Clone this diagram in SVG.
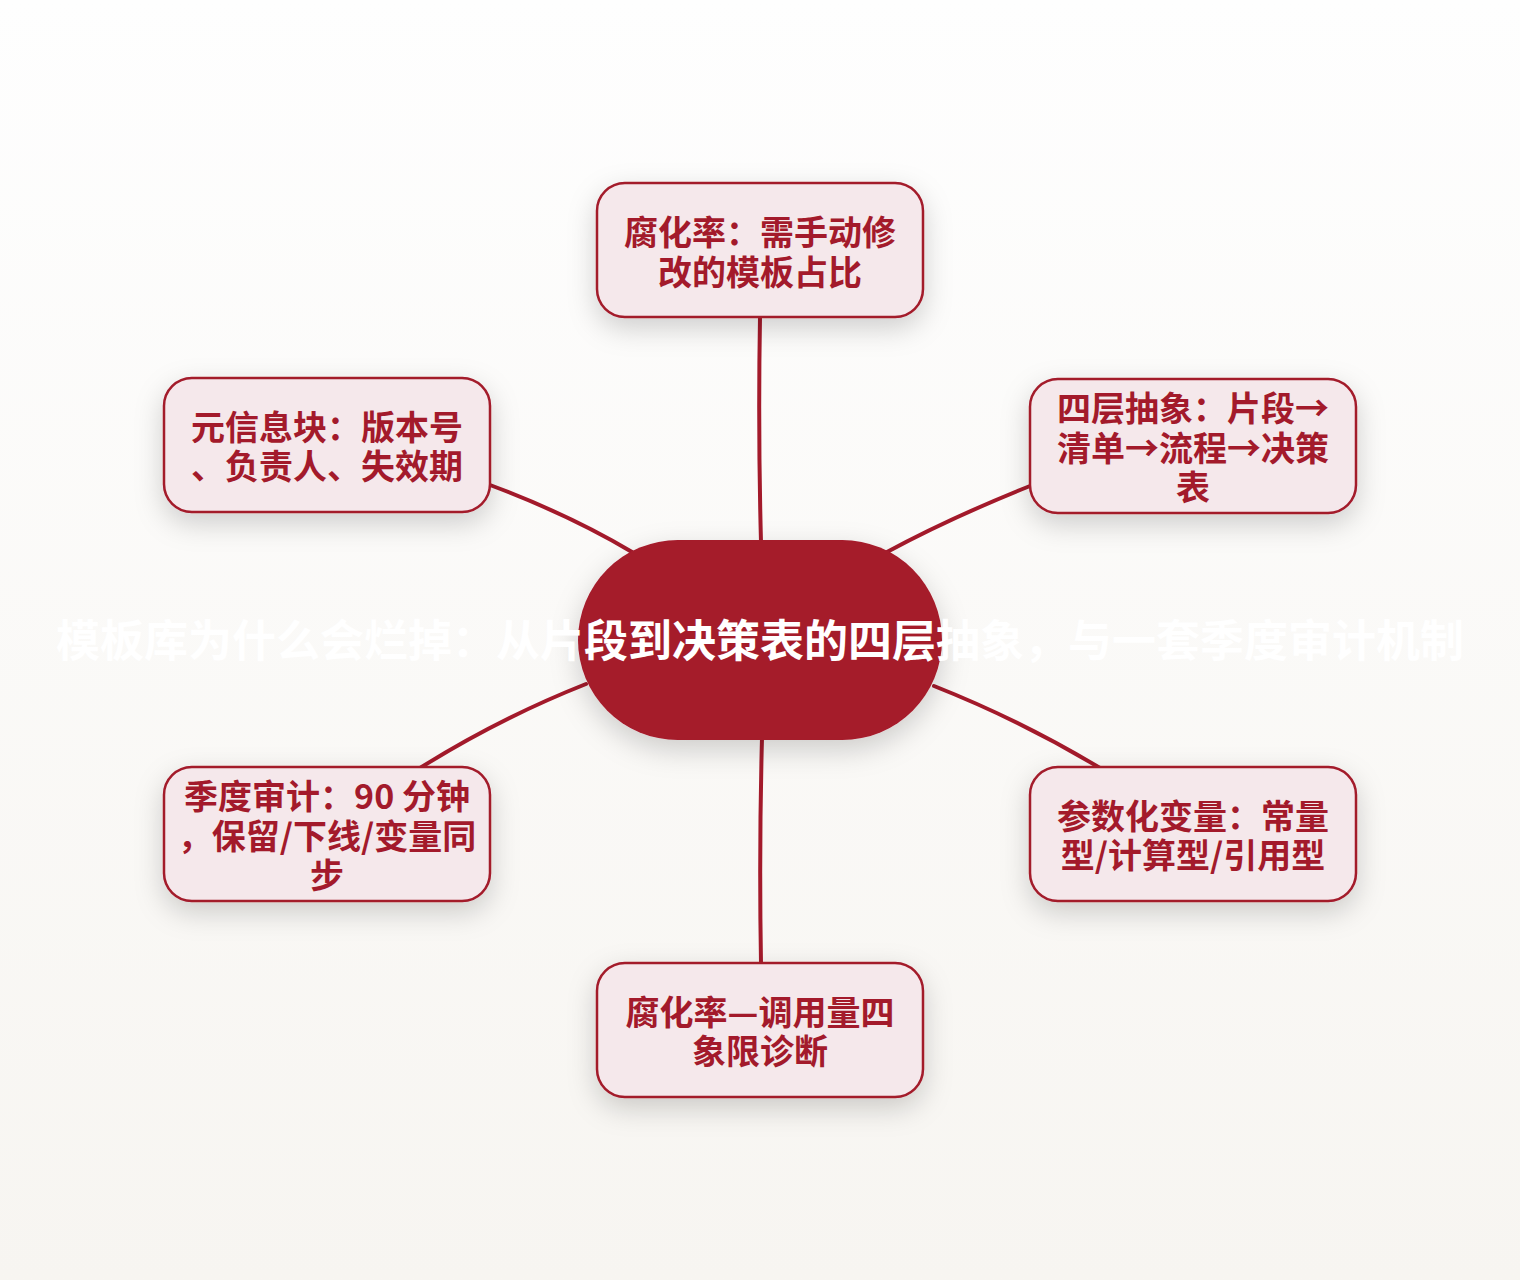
<svg xmlns="http://www.w3.org/2000/svg" width="1520" height="1280" viewBox="0 0 1520 1280">
<defs>
<linearGradient id="bg" x1="0" y1="0" x2="0" y2="1">
<stop offset="0" stop-color="#fefefe"/>
<stop offset="1" stop-color="#f7f5f1"/>
</linearGradient>
<filter id="sh" x="-30%" y="-30%" width="160%" height="170%">
<feDropShadow dx="0" dy="10" stdDeviation="14" flood-color="#000" flood-opacity="0.18"/>
</filter>
<style>
.conn{fill:none;stroke:#a31a2b;stroke-width:4;stroke-linecap:round}
.box{fill:#f5e8eb;stroke:#a31a2b;stroke-width:2.5}
.lbl{font-family:"Noto Sans CJK SC","Noto Sans",sans-serif;font-weight:700;font-size:34px;fill:#a31a2b;text-anchor:middle}
.title{font-family:"Noto Sans CJK SC","Noto Sans",sans-serif;font-weight:700;font-size:44px;fill:#ffffff;text-anchor:middle}
</style>
</defs>
<rect width="1520" height="1280" fill="url(#bg)"/>
<g id="connectors">
<path class="conn" d="M760,317 Q758,430 761,542"/>
<path class="conn" d="M490,485 Q570,515 632,552"/>
<path class="conn" d="M1030,486 Q950,518 887,552"/>
<path class="conn" d="M586,684 Q500,718 420,768"/>
<path class="conn" d="M934,686 Q1020,720 1100,768"/>
<path class="conn" d="M762,738 Q759,850 761,963"/>
</g>
<g id="n_top">
<rect class="box" x="597" y="183" width="326" height="134" rx="28" filter="url(#sh)"/>
<text class="lbl"><tspan x="760" y="245">腐化率：需手动修</tspan><tspan x="760" y="285">改的模板占比</tspan></text>
</g>
<g id="n_tl">
<rect class="box" x="164" y="378" width="326" height="134" rx="28" filter="url(#sh)"/>
<text class="lbl"><tspan x="327" y="440">元信息块：版本号</tspan><tspan x="327" y="479">、负责人、失效期</tspan></text>
</g>
<g id="n_tr">
<rect class="box" x="1030" y="379" width="326" height="134" rx="28" filter="url(#sh)"/>
<text class="lbl"><tspan x="1193" y="421">四层抽象：片段→</tspan><tspan x="1193" y="461">清单→流程→决策</tspan><tspan x="1193" y="500">表</tspan></text>
</g>
<g id="n_bl">
<rect class="box" x="164" y="767" width="326" height="134" rx="28" filter="url(#sh)"/>
<text class="lbl"><tspan x="327" y="809">季度审计：90 分钟</tspan><tspan x="327" y="849">，保留/下线/变量同</tspan><tspan x="327" y="888">步</tspan></text>
</g>
<g id="n_br">
<rect class="box" x="1030" y="767" width="326" height="134" rx="28" filter="url(#sh)"/>
<text class="lbl"><tspan x="1193" y="829">参数化变量：常量</tspan><tspan x="1193" y="868">型/计算型/引用型</tspan></text>
</g>
<g id="n_bottom">
<rect class="box" x="597" y="963" width="326" height="134" rx="28" filter="url(#sh)"/>
<text class="lbl"><tspan x="760" y="1025">腐化率—调用量四</tspan><tspan x="760" y="1064">象限诊断</tspan></text>
</g>
<g id="n_center">
<rect x="578" y="540" width="364" height="200" rx="100" fill="#a51a2b" filter="url(#sh)"/>
<text class="title" x="760" y="657">模板库为什么会烂掉：从片段到决策表的四层抽象，与一套季度审计机制</text>
</g>
</svg>
